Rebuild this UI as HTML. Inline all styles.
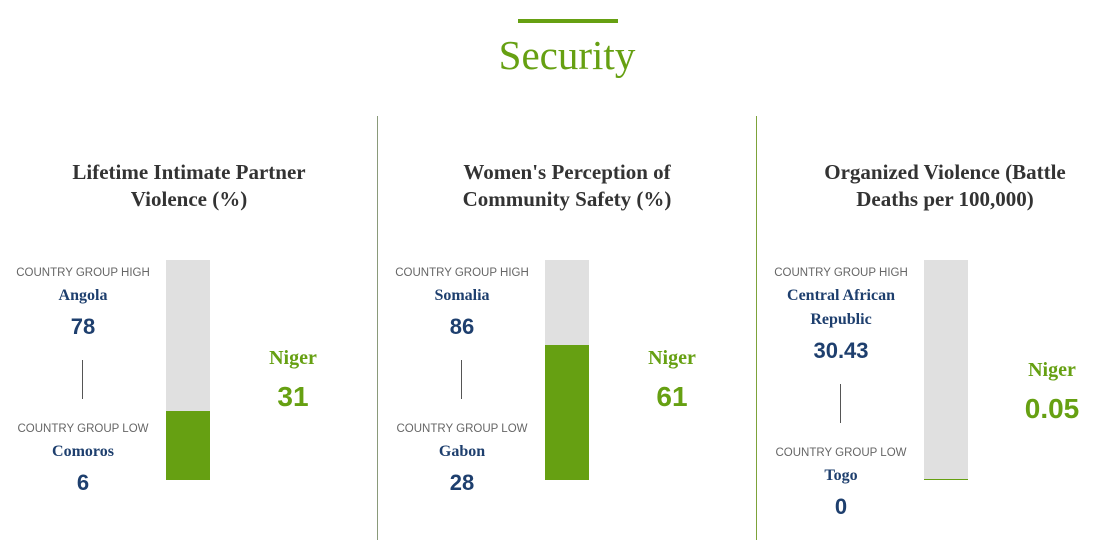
<!DOCTYPE html>
<html><head><meta charset="utf-8"><style>
body{margin:0;width:1104px;height:557px;background:#fff;position:relative;overflow:hidden}
.a{position:absolute;white-space:nowrap;text-align:center;transform:translateX(-50%)}
.t{font-family:"Liberation Serif",serif;font-weight:bold;font-size:21px;color:#333;height:27px;line-height:27px}
.lab{font-family:"Liberation Sans",sans-serif;font-size:11.5px;color:#666;height:16px;line-height:16px}
.nm{font-family:"Liberation Serif",serif;font-weight:bold;font-size:16px;color:#1e3f6e;height:22px;line-height:22px}
.v{font-family:"Liberation Sans",sans-serif;font-weight:bold;font-size:22px;color:#1e3f6e;height:28px;line-height:28px}
.ng{font-family:"Liberation Serif",serif;font-weight:bold;font-size:20px;color:#66a012;height:26px;line-height:26px}
.nv{font-family:"Liberation Sans",sans-serif;font-weight:bold;font-size:28px;color:#66a012;height:34px;line-height:34px}
.r{position:absolute}
</style></head><body>
<div class="r" style="left:518px;top:19px;width:100px;height:4px;background:#66a012"></div>
<div class="a" style="left:567px;top:30px;font-family:'Liberation Serif',serif;font-size:41px;color:#66a012;line-height:50px">Security</div>
<div class="r" style="left:377px;top:116px;width:1px;height:424px;background:#8a9a7a"></div>
<div class="r" style="left:756px;top:116px;width:1px;height:424px;background:#7da33a"></div>

<div class="a t" style="left:189px;top:159px">Lifetime Intimate Partner</div>
<div class="a t" style="left:189px;top:186px">Violence (%)</div>
<div class="a lab" style="left:83px;top:265px">COUNTRY GROUP HIGH</div>
<div class="a nm" style="left:83px;top:285px">Angola</div>
<div class="a v" style="left:83px;top:313px">78</div>
<div class="r" style="left:82px;top:360px;width:1px;height:39px;background:#555"></div>
<div class="a lab" style="left:83px;top:421px">COUNTRY GROUP LOW</div>
<div class="a nm" style="left:83px;top:441px">Comoros</div>
<div class="a v" style="left:83px;top:469px">6</div>
<div class="r" style="left:166px;top:260px;width:44px;height:220px;background:#e0e0e0"></div>
<div class="r" style="left:166px;top:411px;width:44px;height:69px;background:#66a012"></div>
<div class="a ng" style="left:293px;top:345px">Niger</div>
<div class="a nv" style="left:293px;top:380px">31</div>

<div class="a t" style="left:567px;top:159px">Women's Perception of</div>
<div class="a t" style="left:567px;top:186px">Community Safety (%)</div>
<div class="a lab" style="left:462px;top:265px">COUNTRY GROUP HIGH</div>
<div class="a nm" style="left:462px;top:285px">Somalia</div>
<div class="a v" style="left:462px;top:313px">86</div>
<div class="r" style="left:461px;top:360px;width:1px;height:39px;background:#555"></div>
<div class="a lab" style="left:462px;top:421px">COUNTRY GROUP LOW</div>
<div class="a nm" style="left:462px;top:441px">Gabon</div>
<div class="a v" style="left:462px;top:469px">28</div>
<div class="r" style="left:545px;top:260px;width:44px;height:220px;background:#e0e0e0"></div>
<div class="r" style="left:545px;top:345px;width:44px;height:135px;background:#66a012"></div>
<div class="a ng" style="left:672px;top:345px">Niger</div>
<div class="a nv" style="left:672px;top:380px">61</div>

<div class="a t" style="left:945px;top:159px">Organized Violence (Battle</div>
<div class="a t" style="left:945px;top:186px">Deaths per 100,000)</div>
<div class="a lab" style="left:841px;top:265px">COUNTRY GROUP HIGH</div>
<div class="a nm" style="left:841px;top:285px">Central African</div>
<div class="a nm" style="left:841px;top:309px">Republic</div>
<div class="a v" style="left:841px;top:337px">30.43</div>
<div class="r" style="left:840px;top:384px;width:1px;height:39px;background:#555"></div>
<div class="a lab" style="left:841px;top:445px">COUNTRY GROUP LOW</div>
<div class="a nm" style="left:841px;top:465px">Togo</div>
<div class="a v" style="left:841px;top:493px">0</div>
<div class="r" style="left:924px;top:260px;width:44px;height:220px;background:#e0e0e0"></div>
<div class="r" style="left:924px;top:479px;width:44px;height:1px;background:#66a012"></div>
<div class="a ng" style="left:1052px;top:357px">Niger</div>
<div class="a nv" style="left:1052px;top:392px">0.05</div>
</body></html>
